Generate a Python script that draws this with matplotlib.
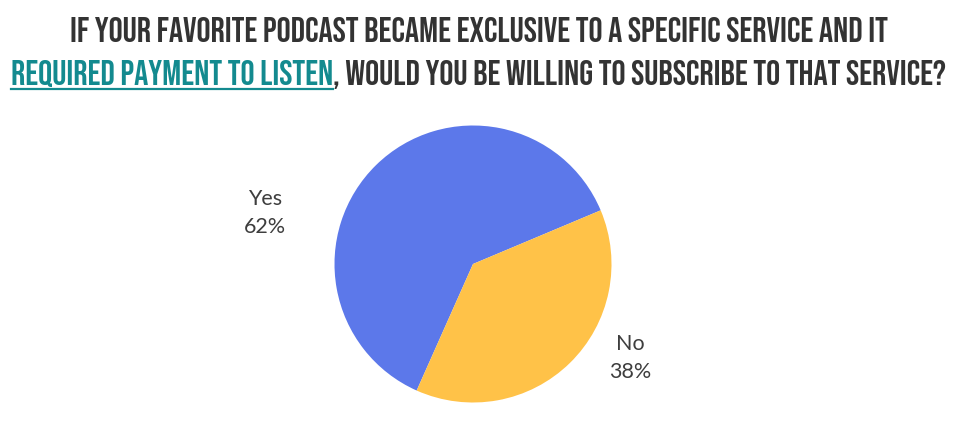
import matplotlib
matplotlib.use("Agg")
import matplotlib.pyplot as plt
from matplotlib import font_manager
from matplotlib.lines import Line2D

labels = ["Yes", "No"]
values = [62, 38]
colors = ["#5C78EA", "#FFC248"]

title_line1 = "IF YOUR FAVORITE PODCAST BECAME EXCLUSIVE TO A SPECIFIC SERVICE AND IT"
title_link = "REQUIRED PAYMENT TO LISTEN"
title_rest = ", WOULD YOU BE WILLING TO SUBSCRIBE TO THAT SERVICE?"

W, H = 954, 421
DARK = "#333333"
TEAL = "#138A8F"

# pick the narrowest bold family we have for the title
names = {f.name for f in font_manager.fontManager.ttflist}
title_font = "DejaVu Sans"
for cand in ["Bebas Neue", "Liberation Sans Narrow", "DejaVu Sans Condensed",
             "Roboto Condensed", "Open Sans Condensed", "Liberation Sans"]:
    if cand in names:
        title_font = cand
        break

fig = plt.figure(figsize=(W / 100, H / 100), dpi=100)
fig.patch.set_facecolor("white")

# pie: centre (473, 264) px, radius 138 px
cx, cy, r = 473, 264, 138.5
ax = fig.add_axes([(cx - r) / W, (H - cy - r) / H, 2 * r / W, 2 * r / H])
ax.pie(values, colors=colors, startangle=-114, counterclock=False,
       radius=1, wedgeprops=dict(linewidth=0))
ax.set_xlim(-1, 1)
ax.set_ylim(-1, 1)
ax.set_aspect("auto")
ax.axis("off")

label_pos = {"Yes": (265, 213), "No": (630, 358)}
for lab, val in zip(labels, values):
    px, py = label_pos[lab]
    fig.text(px / W, 1 - py / H, f"{lab}\n{val}%", ha="center", va="center",
             fontsize=15.5, family="Lato", color="#3E3E3E", linespacing=1.55)

# title, fitted to the reference widths
renderer = fig.canvas.get_renderer()


def width_px(s, size):
    t = fig.text(0, 0, s, fontsize=size, family=title_font, weight="bold")
    w = t.get_window_extent(renderer).width
    t.remove()
    return w


size = 20 * 818 / width_px(title_line1, 20)
fig.text(479 / W, 1 - 42 / H, title_line1, ha="center", va="baseline",
         fontsize=size, family=title_font, weight="bold", color=DARK)

w_link = width_px(title_link, size)
w_rest = width_px(title_rest, size)
x0 = 478.5 - (w_link + w_rest) / 2
fig.text(x0 / W, 1 - 85 / H, title_link, ha="left", va="baseline",
         fontsize=size, family=title_font, weight="bold", color=TEAL)
fig.text((x0 + w_link) / W, 1 - 85 / H, title_rest, ha="left", va="baseline",
         fontsize=size, family=title_font, weight="bold", color=DARK)
fig.add_artist(Line2D([x0 / W, (x0 + w_link) / W], [1 - 89 / H, 1 - 89 / H],
                      transform=fig.transFigure, color=TEAL, linewidth=1.6))

fig.savefig("out.png", dpi=100, facecolor="white")
